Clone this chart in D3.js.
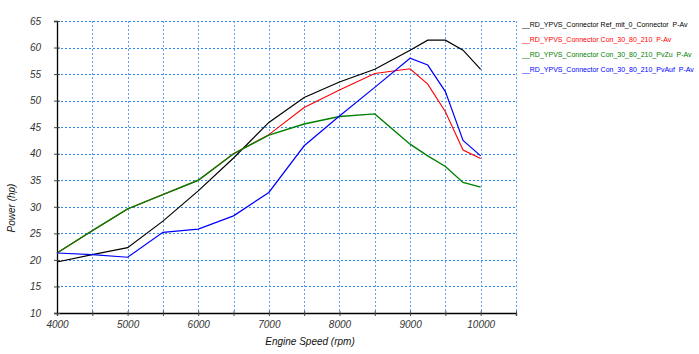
<!DOCTYPE html>
<html>
<head>
<meta charset="utf-8">
<script src="https://cdn.jsdelivr.net/npm/d3@7"></script>
<style>
  body { margin: 0; background: #fff; }
  svg { display: block; font-family: "Liberation Sans", Arial, sans-serif; }
  .legend text { white-space: pre; }
</style>
</head>
<body>
<svg width="699" height="354"></svg>
<script>
const rpm = [4000, 4500, 5000, 5500, 6000, 6500, 7000, 7500, 8000, 8500, 9000, 9250, 9500, 9750, 10000];

const refPower    = [19.6, 21.0, 22.3, 27.3, 33.0, 39.2, 45.9, 50.6, 53.5, 55.9, 59.5, 61.4, 61.4, 59.5, 55.9];
const conPower    = [21.3, 25.5, 29.6, 32.3, 35.0, 40.0, 43.6, 48.7, 52.0, 55.1, 56.0, 53.1, 47.9, 40.7, 39.1];
const pvZuPower   = [21.3, 25.5, 29.6, 32.3, 35.0, 40.0, 43.5, 45.6, 47.0, 47.5, 41.8, 39.6, 37.6, 34.6, 33.7];
const pvAufPower  = [21.3, 21.0, 20.5, 25.2, 25.8, 28.3, 32.7, 41.5, 47.1, 52.5, 58.0, 56.7, 51.7, 42.5, 39.6];

const seriesNames = [
  '__RD_YPVS_Connector Ref_mit_0_Connector  P-Av',
  '__RD_YPVS_Connector Con_30_80_210  P-Av',
  '__RD_YPVS_Connector Con_30_80_210_PvZu  P-Av',
  '__RD_YPVS_Connector Con_30_80_210_PvAuf  P-Av'
];
const seriesColors = ['#000000', '#ff0000', '#008000', '#0000ff'];
const seriesWidths = [1.2, 1.1, 1.4, 1.2];

const xTicks = [4000, 4500, 5000, 5500, 6000, 6500, 7000, 7500, 8000, 8500, 9000, 9500, 10000, 10500];
const xLabels = [4000, 5000, 6000, 7000, 8000, 9000, 10000];
const yTicks = [10, 15, 20, 25, 30, 35, 40, 45, 50, 55, 60, 65];

const svg = d3.select('svg');
const x = d3.scaleLinear().domain([4000, 10500]).range([57, 516]);
const y = d3.scaleLinear().domain([10, 65]).range([313, 21]);

// grid
const grid = svg.append('g');
grid.selectAll('.hg').data(yTicks.slice(1)).enter().append('line')
  .attr('class', 'hg')
  .attr('x1', x(4000)).attr('x2', x(10500))
  .attr('y1', d => Math.round(y(d)) + 0.5).attr('y2', d => Math.round(y(d)) + 0.5)
  .attr('stroke', '#2f86f0').attr('stroke-width', 1).attr('stroke-dasharray', '2,2');
grid.selectAll('.vg').data(xTicks.slice(1)).enter().append('line')
  .attr('class', 'vg')
  .attr('y1', y(65)).attr('y2', y(10))
  .attr('x1', d => Math.round(x(d)) + 0.5).attr('x2', d => Math.round(x(d)) + 0.5)
  .attr('stroke', '#5aa0f5').attr('stroke-width', 1).attr('stroke-dasharray', '2,2');

// axes
const xAxis = d3.axisBottom(x).tickValues(xTicks).tickSize(3)
  .tickFormat(d => xLabels.includes(d) ? d : '');
const gx = svg.append('g').attr('transform', `translate(0,${y(10)})`).call(xAxis);
gx.attr('font-family', null);
gx.select('.domain').attr('stroke', '#000').attr('stroke-width', 1.3);
gx.selectAll('.tick line').attr('y1', -2).attr('stroke', '#444');
gx.selectAll('.tick text').attr('dy', '1.2em').attr('y', 3)
  .attr('font-size', 10).attr('font-style', 'italic').attr('fill', '#333');

const yAxis = d3.axisLeft(y).tickValues(yTicks).tickSize(3);
const gy = svg.append('g').attr('transform', `translate(${x(4000)},0)`).call(yAxis);
gy.attr('font-family', null);
gy.select('.domain').attr('stroke', '#000').attr('stroke-width', 1.3);
gy.selectAll('.tick line').attr('x1', -3).attr('x2', 3).attr('stroke', '#444');
gy.selectAll('.tick text').attr('x', -16)
  .attr('font-size', 10).attr('font-style', 'italic').attr('fill', '#333');

// lines, green drawn over red where they coincide
const allSeries = [refPower, conPower, pvZuPower, pvAufPower];
const line = d3.line().x((d, i) => x(rpm[i])).y(d => y(d));
[0, 1, 2, 3].forEach(k => {
  svg.append('path')
    .datum(allSeries[k])
    .attr('d', line)
    .attr('fill', 'none')
    .attr('stroke', seriesColors[k])
    .attr('stroke-width', seriesWidths[k]);
});

// axis titles
svg.append('text')
  .attr('x', 310).attr('y', 345)
  .attr('text-anchor', 'middle')
  .attr('font-size', 10).attr('font-style', 'italic').attr('fill', '#111')
  .text('Engine Speed (rpm)');
svg.append('text')
  .attr('transform', 'translate(15,208) rotate(-90)')
  .attr('text-anchor', 'middle')
  .attr('font-size', 10).attr('font-style', 'italic').attr('fill', '#111')
  .text('Power (hp)');

// legend
const legend = svg.append('g').attr('class', 'legend');
legend.selectAll('text').data(seriesNames).enter().append('text')
  .attr('x', 522)
  .attr('y', (d, i) => 27 + i * 15)
  .attr('font-size', 7)
  .attr('fill', (d, i) => seriesColors[i])
  .text(d => d);
</script>
</body>
</html>
